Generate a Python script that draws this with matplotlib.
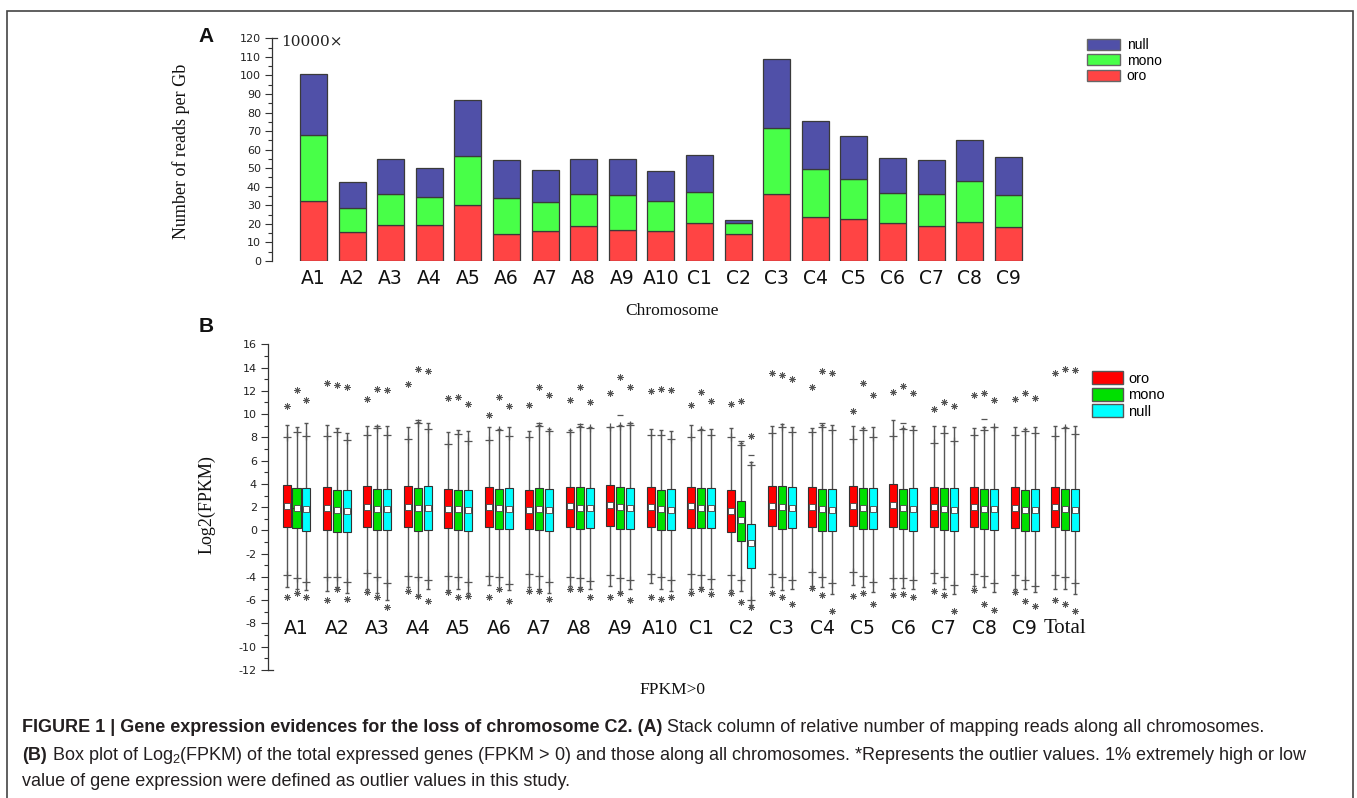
import matplotlib
matplotlib.use('Agg')
import matplotlib.pyplot as plt
import numpy as np
from matplotlib.patches import Patch, Rectangle
from matplotlib.ticker import MultipleLocator

plt.rcParams['mathtext.fontset'] = 'custom'
plt.rcParams['mathtext.rm'] = 'Liberation Sans'
plt.rcParams['axes.unicode_minus'] = False

W, H = 1357, 798

# (A) mapped reads per Gb (x10000), stacked by class
chromosomes = ['A1', 'A2', 'A3', 'A4', 'A5', 'A6', 'A7', 'A8', 'A9', 'A10',
               'C1', 'C2', 'C3', 'C4', 'C5', 'C6', 'C7', 'C8', 'C9']
oro_reads = [32.1, 15.6, 19.2, 19.4, 30.0, 14.7, 15.9, 18.7, 16.5, 16.0,
             20.3, 14.4, 35.9, 23.5, 22.8, 20.5, 18.7, 20.8, 18.5]
mono_reads = [35.7, 13.1, 17.0, 15.0, 26.7, 19.4, 16.0, 17.5, 19.2, 16.3,
              16.8, 6.2, 35.7, 26.0, 21.5, 16.3, 17.2, 22.3, 17.2]
null_reads = [33.2, 14.0, 18.5, 15.6, 29.8, 20.3, 16.9, 18.7, 19.2, 16.1,
              19.9, 1.3, 37.3, 25.7, 22.8, 18.5, 18.3, 22.2, 20.1]

# (B) Log2(FPKM) summaries per chromosome, FPKM > 0
box_groups = chromosomes + ['Total']
nan = np.nan

oro_q1 = [0.26, 0.03, 0.26, 0.32, 0.17, 0.26, 0.09, 0.26, 0.4, 0.32, 0.23, -0.14, 0.38, 0.32, 0.4, 0.32, 0.26, 0.32, 0.17, 0.26]
oro_q3 = [3.9, 3.7, 3.78, 3.84, 3.53, 3.7, 3.47, 3.75, 3.9, 3.7, 3.75, 3.47, 3.81, 3.72, 3.81, 4.0, 3.75, 3.75, 3.7, 3.75]
oro_mean = [2.07, 1.92, 2.0, 2.04, 1.87, 2.0, 1.78, 2.07, 2.18, 2.04, 2.07, 1.7, 2.13, 2.04, 2.13, 2.18, 2.0, 2.04, 1.92, 2.04]
oro_whi = [9.1, 9.1, 9.0, 8.9, 8.5, 8.85, 8.54, 8.62, 8.9, 8.74, 9.05, 8.8, 8.94, 8.82, 8.97, 9.5, 8.97, 8.77, 8.9, 8.97]
oro_wlo = [-4.9, -5.2, -5.0, -4.85, -5.1, -4.7, -4.9, -4.8, -4.75, -4.5, -5.0, -5.1, -4.85, -4.75, -4.7, -5.0, -4.56, -4.8, -5.0, -5.0]
oro_p99 = [8.0, 8.1, 8.2, 7.9, 7.4, 7.8, 8.05, 8.5, 8.9, 8.2, 8.05, 8.0, 8.35, 8.42, 7.9, 8.1, 7.53, 8.2, 8.17, 8.1]
oro_p01 = [-3.83, -4.0, -3.7, -3.9, -3.9, -3.9, -3.75, -4.0, -3.83, -3.75, -3.78, -3.83, -3.75, -3.6, -3.6, -4.07, -3.7, -3.75, -3.83, -3.83]
oro_out_hi = [10.7, 12.7, 11.3, 12.6, 11.4, 9.9, 10.8, 11.2, 11.8, 11.95, 10.75, 10.85, 13.5, 12.35, 10.25, 11.9, 10.4, 11.6, 11.3, 13.5]
oro_out_lo = [-5.7, -6.0, -5.27, -5.2, -5.27, -5.75, -5.2, -5.07, -5.75, -5.75, -5.35, -5.4, -5.35, -4.95, -5.6, -5.55, -5.2, -5.1, -5.3, -6.0]
oro_max = [nan] * 20

mono_q1 = [0.17, -0.14, 0.03, -0.08, 0.06, 0.12, 0.03, 0.14, 0.14, 0.03, 0.23, -0.88, 0.14, -0.02, 0.14, 0.09, 0.03, 0.09, -0.08, 0.03]
mono_q3 = [3.67, 3.47, 3.53, 3.64, 3.5, 3.58, 3.61, 3.7, 3.75, 3.47, 3.61, 2.5, 3.78, 3.53, 3.61, 3.58, 3.61, 3.53, 3.44, 3.53]
mono_mean = [1.95, 1.75, 1.87, 1.92, 1.87, 1.9, 1.87, 1.95, 2.04, 1.87, 1.95, 0.9, 2.0, 1.84, 1.95, 1.95, 1.87, 1.87, 1.75, 1.87]
mono_whi = [8.85, 8.77, 8.95, 9.3, 8.65, 8.7, 9.05, 9.0, 9.1, 8.63, 8.7, 7.5, 9.15, 9.05, 8.77, 8.82, 8.97, 8.85, 8.7, 8.85]
mono_wlo = [-5.07, -4.85, -5.35, -5.55, -5.07, -5.07, -5.0, -4.85, -5.27, -5.07, -4.85, -5.2, -5.1, -4.85, -4.85, -4.93, -5.0, -4.85, -5.07, -5.07]
mono_p99 = [8.5, 8.5, 8.8, 9.2, 8.3, 8.6, 9.0, 8.9, 9.0, 8.2, 8.62, 7.3, 8.9, 8.9, 8.6, 8.7, 8.35, 8.6, 8.54, 8.8]
mono_p01 = [-4.1, -4.0, -4.0, -3.98, -4.0, -4.0, -3.9, -4.1, -4.07, -4.0, -3.83, -4.3, -4.0, -4.0, -3.9, -4.1, -4.0, -3.95, -4.3, -4.0]
mono_out_hi = [12.1, 12.5, 12.2, 13.9, 11.5, 11.45, 12.3, 12.3, 13.15, 12.2, 11.9, 11.1, 13.4, 13.7, 12.7, 12.45, 11.03, 11.85, 11.8, 13.9]
mono_out_lo = [-5.4, -5.0, -5.75, -5.6, -5.75, -5.0, -5.2, -5.07, -5.4, -5.9, -5.0, -6.15, -5.7, -5.55, -5.4, -5.5, -5.55, -6.3, -6.07, -6.3]
mono_max = [nan, nan, 9.0, 9.45, nan, nan, 9.2, 9.15, 9.95, nan, nan, 7.65, nan, 9.2, nan, 9.2, nan, 9.6, nan, nan]

null_q1 = [-0.02, -0.14, 0.03, 0.03, -0.02, 0.09, -0.06, 0.17, 0.14, 0.03, 0.23, -3.2, 0.17, -0.08, 0.09, -0.02, -0.02, 0.03, -0.02, -0.02]
null_q3 = [3.67, 3.44, 3.58, 3.81, 3.44, 3.61, 3.53, 3.67, 3.67, 3.53, 3.61, 0.55, 3.72, 3.58, 3.61, 3.61, 3.61, 3.53, 3.53, 3.58]
null_mean = [1.84, 1.67, 1.81, 1.95, 1.75, 1.84, 1.78, 1.9, 1.95, 1.78, 1.95, -1.1, 1.92, 1.75, 1.87, 1.84, 1.78, 1.81, 1.75, 1.78]
null_whi = [9.2, 8.4, 9.0, 9.25, 8.57, 8.9, 8.7, 8.85, 9.2, 8.54, 8.7, 5.85, 8.85, 9.05, 8.9, 8.97, 8.85, 8.9, 8.9, 8.97]
null_wlo = [-5.1, -5.4, -6.0, -5.07, -5.36, -5.1, -5.36, -5.0, -5.0, -5.2, -5.0, -6.4, -5.07, -5.5, -5.27, -5.07, -5.5, -5.27, -5.27, -5.5]
null_p99 = [8.1, 7.8, 8.2, 8.7, 7.7, 8.1, 8.57, 8.77, 9.1, 7.85, 8.2, 5.6, 8.5, 8.62, 8.05, 8.62, 7.7, 8.85, 8.35, 8.3]
null_p01 = [-4.4, -4.4, -4.5, -4.3, -4.4, -4.6, -4.4, -4.35, -4.3, -4.27, -4.2, -6.0, -4.3, -4.5, -4.4, -4.3, -4.7, -4.55, -4.8, -4.55]
null_out_hi = [11.2, 12.3, 12.1, 13.7, 10.9, 10.7, 11.6, 11.0, 12.35, 12.03, 11.15, 8.15, 13.0, 13.55, 11.6, 11.8, 10.66, 11.2, 11.4, 13.8]
null_out_lo = [-5.7, -5.9, -6.6, -6.1, -5.63, -6.1, -5.9, -5.75, -6.0, -5.7, -5.5, -6.6, -6.3, -6.9, -6.3, -5.7, -6.9, -6.8, -6.5, -6.9]
null_max = [nan, nan, nan, nan, nan, nan, nan, nan, 9.25, nan, nan, 6.45, nan, nan, nan, nan, nan, nan, nan, nan]

SANS = 'Liberation Sans'
SERIF = 'Liberation Serif'
DARK = '#333333'

fig = plt.figure(figsize=(W / 100, H / 100), dpi=100)


def px_axes(left, top, right, bottom):
    return fig.add_axes([left / W, 1 - bottom / H, (right - left) / W, (bottom - top) / H])


def fx(px):
    return px / W


def fy(py):
    return 1 - py / H


def style_left_axis(ax, stub_at):
    for s in ('top', 'right', 'bottom'):
        ax.spines[s].set_visible(False)
    ax.spines['left'].set_color(DARK)
    ax.spines['left'].set_linewidth(0.9)
    ax.tick_params(axis='y', which='major', direction='out', length=5, width=0.8,
                   color=DARK, labelsize=8, pad=3)
    ax.tick_params(axis='y', which='minor', direction='out', length=3, width=0.8, color=DARK)
    for lab in ax.get_yticklabels():
        lab.set_family('DejaVu Sans')
        lab.set_color('#222222')
    # short inward stub closing the end of the axis line
    ax.plot([0, 0.006], [stub_at, stub_at], transform=ax.transAxes, color=DARK,
            lw=0.9, clip_on=False)


# ---------------- panel A: stacked columns ----------------
axA = px_axes(272, 38.3, 1060, 261)
x = np.arange(len(chromosomes))
oro_c, mono_c, null_c = '#FF4444', '#48FF48', '#5050A8'
bar_kw = dict(width=0.7, edgecolor='#3a3a3a', linewidth=0.9)
axA.bar(x, oro_reads, color=oro_c, **bar_kw)
axA.bar(x, mono_reads, bottom=oro_reads, color=mono_c, **bar_kw)
axA.bar(x, null_reads, bottom=np.add(oro_reads, mono_reads), color=null_c, **bar_kw)

axA.set_xlim(-1.075, -1.075 + (1060 - 272) / 38.6)
axA.set_ylim(0, 120)
axA.yaxis.set_major_locator(MultipleLocator(10))
axA.yaxis.set_minor_locator(MultipleLocator(5))
axA.set_xticks(x)
axA.set_xticklabels(chromosomes, family='DejaVu Sans', size=13.5, color='#111111')
axA.tick_params(axis='x', length=0, pad=6)
style_left_axis(axA, 1.0)
axA.text(0.011, 0.985, '10000\u00d7', transform=axA.transAxes, family='DejaVu Serif',
         size=11, va='center', ha='left', color='#222222')

axA.legend(handles=[Patch(facecolor=null_c, edgecolor='#666666'),
                    Patch(facecolor=mono_c, edgecolor='#666666'),
                    Patch(facecolor=oro_c, edgecolor='#666666')],
           labels=['null', 'mono', 'oro'], loc='upper left',
           bbox_to_anchor=(fx(1087), fy(38)), bbox_transform=fig.transFigure,
           frameon=False, prop={'family': SANS, 'size': 10}, handlelength=2.35,
           handleheight=0.85, labelspacing=0.12, handletextpad=0.5,
           borderpad=0, borderaxespad=0)

fig.text(fx(181), fy(151), 'Number of reads per Gb', rotation=90, family=SERIF,
         size=13, ha='center', va='center', color='#111111')
fig.text(fx(672), fy(311), 'Chromosome', family=SERIF, size=12.5, ha='center',
         va='center', color='#111111')
fig.text(fx(206), fy(36), 'A', family=SANS, weight='bold', size=15, ha='center',
         va='center', color='#111111')

# ---------------- panel B: box plots ----------------
axB = px_axes(268, 344.3, 1082, 670)
step = 40.45
axB.set_xlim(-(296.5 - 268) / step, -(296.5 - 268) / step + (1082 - 268) / step)
axB.set_ylim(-12, 16)
axB.yaxis.set_major_locator(MultipleLocator(2))
axB.yaxis.set_minor_locator(MultipleLocator(1))
axB.set_xticks([])
style_left_axis(axB, 0.0)

gx = np.arange(len(box_groups))
series = [
    ('oro', '#FF0000', -0.247, oro_q1, oro_q3, oro_mean, oro_whi, oro_wlo, oro_p99, oro_p01,
     oro_out_hi, oro_out_lo, oro_max),
    ('mono', '#00E000', 0.0, mono_q1, mono_q3, mono_mean, mono_whi, mono_wlo, mono_p99, mono_p01,
     mono_out_hi, mono_out_lo, mono_max),
    ('null', '#00FFFF', 0.247, null_q1, null_q3, null_mean, null_whi, null_wlo, null_p99, null_p01,
     null_out_hi, null_out_lo, null_max),
]
bw = 0.198
star = (8, 2, 0)
handles = []
for name, col, off, q1, q3, mean, whi, wlo, p99, p01, ohi, olo, mx in series:
    xs = gx + off
    axB.vlines(xs, wlo, whi, color='#555555', lw=1.0, zorder=1)
    axB.plot(xs, whi, ls='none', marker='_', ms=3, mew=1.0, color='#555555', zorder=1)
    axB.plot(xs, wlo, ls='none', marker='_', ms=3, mew=1.0, color='#555555', zorder=1)
    axB.bar(xs, np.subtract(q3, q1), bottom=q1, width=bw, color=col,
            edgecolor=DARK, linewidth=0.8, zorder=2)
    axB.hlines(mean, xs - bw / 2, xs + bw / 2, color=DARK, lw=0.8, zorder=3)
    axB.plot(xs, mean, ls='none', marker='s', ms=3.8, mfc='white', mec='#444444',
             mew=0.6, zorder=4)
    axB.plot(xs, p99, ls='none', marker='+', ms=6, mew=0.9, color='#555555', zorder=1)
    axB.plot(xs, p01, ls='none', marker='+', ms=6, mew=0.9, color='#555555', zorder=1)
    axB.plot(xs, mx, ls='none', marker='_', ms=5, mew=0.9, color='#555555', zorder=1)
    axB.plot(xs, ohi, ls='none', marker=star, ms=4.8, mew=0.6, color='#555555')
    axB.plot(xs, olo, ls='none', marker=star, ms=4.8, mew=0.6, color='#555555')
    handles.append(Patch(facecolor=col, edgecolor='#555555', label=name))

for i, g in enumerate(box_groups):
    if g == 'Total':
        axB.text(i, -8.4, g, family=SERIF, size=15, ha='center', va='center', color='#111111')
    else:
        axB.text(i, -8.4, g, family='DejaVu Sans', size=13.5, ha='center', va='center',
                 color='#111111')

axB.legend(handles=handles, loc='upper left', bbox_to_anchor=(fx(1092), fy(371)),
           bbox_transform=fig.transFigure, frameon=False,
           prop={'family': SANS, 'size': 10.5}, handlelength=2.1, handleheight=1.0,
           labelspacing=0.15, handletextpad=0.4, borderpad=0, borderaxespad=0)

fig.text(fx(207), fy(505), 'Log2(FPKM)', rotation=90, family=SERIF, size=13,
         ha='center', va='center', color='#111111')
fig.text(fx(672), fy(690), 'FPKM>0', family=SERIF, size=12.5, ha='center',
         va='center', color='#111111')
fig.text(fx(206), fy(326), 'B', family=SANS, weight='bold', size=15, ha='center',
         va='center', color='#111111')

# frame around the figure body
fig.add_artist(Rectangle((fx(7), -0.02), fx(1353) - fx(7), fy(11) + 0.02,
                         transform=fig.transFigure, fill=False, lw=1.2, ec='#444444'))

# caption, mixing bold and regular runs on each line
renderer = fig.canvas.get_renderer()


def caption_line(py, runs, size=13):
    cx = 22
    for txt, bold in runs:
        t = fig.text(fx(cx), fy(py), txt, family=SANS, size=size,
                     weight='bold' if bold else 'normal', va='center', ha='left',
                     color='#231f20')
        cx = t.get_window_extent(renderer).x1


caption_line(728, [('FIGURE 1 | Gene expression evidences for the loss of chromosome C2. (A)', True),
                   (' Stack column of relative number of mapping reads along all chromosomes.', False)])
caption_line(755, [('(B)', True),
                   (r' Box plot of Log$_\mathregular{2}$(FPKM) of the total expressed genes (FPKM > 0) '
                    'and those along all chromosomes. *Represents the outlier values. 1% extremely high or low', False)])
caption_line(781, [('value of gene expression were defined as outlier values in this study.', False)])

fig.savefig('out.png', dpi=100)
